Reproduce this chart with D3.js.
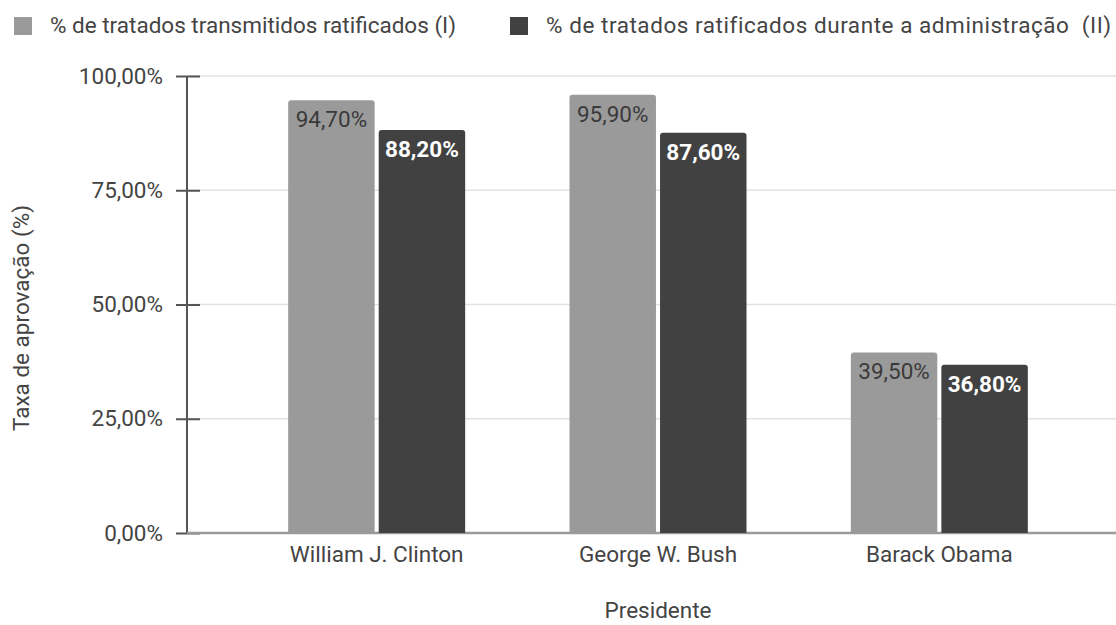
<!DOCTYPE html>
<html>
<head>
<meta charset="utf-8">
<script src="https://cdn.jsdelivr.net/npm/d3@7"></script>
<style>
  html, body { margin: 0; padding: 0; background: #fff; }
  svg { display: block; font-family: Roboto, "Liberation Sans", Arial, sans-serif; }
</style>
</head>
<body>
<svg id="chart" width="1116" height="625"></svg>
<script>
// Presidents compared
const presidents = ["William J. Clinton", "George W. Bush", "Barack Obama"];
// Series names (legend)
const seriesNames = [
  "% de tratados transmitidos ratificados (I)",
  "% de tratados ratificados durante a administração  (II)"
];
// Approval rates, percent
const transmittedRatified = [94.7, 95.9, 39.5];
const ratifiedDuringTerm = [88.2, 87.6, 36.8];
// Y-axis ticks
const yTicks = [0, 25, 50, 75, 100];

const colors = ["#9a9a9a", "#414141"];
const labelColors = ["#3a3a3a", "#ffffff"];
const labelWeights = ["normal", "bold"];
const textColor = "#444";
const fs = 22.5;

const svg = d3.select("#chart");
const W = 1116, H = 625;
const axisX = 187, yTop = 76, yBottom = 533;

const y = d3.scaleLinear().domain([0, 100]).range([yBottom, yTop]);
const x0 = d3.scaleBand().domain(presidents).range([236, 1080]).paddingInner(0).paddingOuter(0);
const x1 = d3.scaleBand().domain([0, 1]).range([x0.bandwidth() / 2 - 88.5, x0.bandwidth() / 2 + 88.5]).paddingInner(0.045);

const fmt = v => d3.format(".2f")(v).replace(".", ",") + "%";

// Gridlines
svg.append("g")
  .selectAll("line")
  .data(yTicks.filter(t => t > 0))
  .join("line")
  .attr("x1", axisX).attr("x2", W)
  .attr("y1", d => y(d)).attr("y2", d => y(d))
  .attr("stroke", "#e2e2e2").attr("stroke-width", 1.5);

// Y axis
const yAxis = d3.axisLeft(y).tickValues(yTicks).tickFormat(fmt).tickSize(0).tickPadding(24);
const yg = svg.append("g").attr("transform", `translate(${axisX},0)`).call(yAxis);
yg.select(".domain").remove();
yg.selectAll("text").attr("font-size", fs).attr("fill", textColor).attr("font-family", "Roboto, sans-serif");
yg.selectAll(".tick").append("line")
  .attr("x1", -11).attr("x2", 13).attr("stroke", "#555").attr("stroke-width", 2);
yg.append("line").attr("x1", 0).attr("x2", 0).attr("y1", yTop).attr("y2", yBottom)
  .attr("stroke", "#555").attr("stroke-width", 2);

// Baseline
svg.append("line").attr("x1", axisX).attr("x2", W).attr("y1", yBottom).attr("y2", yBottom)
  .attr("stroke", "#9a9a9a").attr("stroke-width", 2.5);

// Rounded-top bar path
function topRoundedRect(x, yy, w, h, r) {
  return `M${x},${yy + h}V${yy + r}Q${x},${yy} ${x + r},${yy}H${x + w - r}Q${x + w},${yy} ${x + w},${yy + r}V${yy + h}Z`;
}

const series = [transmittedRatified, ratifiedDuringTerm];
const groups = svg.append("g").selectAll("g")
  .data(presidents)
  .join("g")
  .attr("transform", d => `translate(${x0(d)},0)`);

groups.each(function (p, i) {
  const g = d3.select(this);
  series.forEach((vals, s) => {
    const v = vals[i];
    const bx = x1(s), bw = x1.bandwidth();
    g.append("path")
      .attr("d", topRoundedRect(bx, y(v), bw, yBottom - y(v), 3))
      .attr("fill", colors[s]);
    g.append("text")
      .attr("x", bx + bw / 2)
      .attr("y", y(v) + 27)
      .attr("text-anchor", "middle")
      .attr("font-size", fs)
      .attr("font-weight", labelWeights[s])
      .attr("fill", labelColors[s])
      .text(fmt(v));
  });
});

// X axis labels
const xAxis = d3.axisBottom(x0).tickSize(0).tickPadding(13);
const xg = svg.append("g").attr("transform", `translate(0,${yBottom})`).call(xAxis);
xg.select(".domain").remove();
xg.selectAll("text").attr("font-size", fs).attr("fill", textColor).attr("font-family", "Roboto, sans-serif");

// Axis titles
svg.append("text").attr("x", 658).attr("y", 618)
  .attr("text-anchor", "middle").attr("font-size", fs).attr("fill", textColor).text("Presidente");
svg.append("text")
  .attr("transform", `translate(29,318) rotate(-90)`)
  .attr("text-anchor", "middle").attr("font-size", fs).attr("fill", textColor)
  .text("Taxa de aprovação (%)");

// Legend
const legendX = [14, 510];
const legendSpacing = [0, 0.55];
const lg = svg.append("g").selectAll("g").data(seriesNames).join("g")
  .attr("transform", (d, i) => `translate(${legendX[i]},17)`);
lg.append("rect").attr("width", 18).attr("height", 18).attr("fill", (d, i) => colors[i]);
lg.append("text").attr("x", 36).attr("y", 16).attr("font-size", fs).attr("fill", textColor)
  .attr("letter-spacing", (d, i) => legendSpacing[i])
  .attr("xml:space", "preserve").style("white-space", "pre").text(d => d);
</script>
</body>
</html>
